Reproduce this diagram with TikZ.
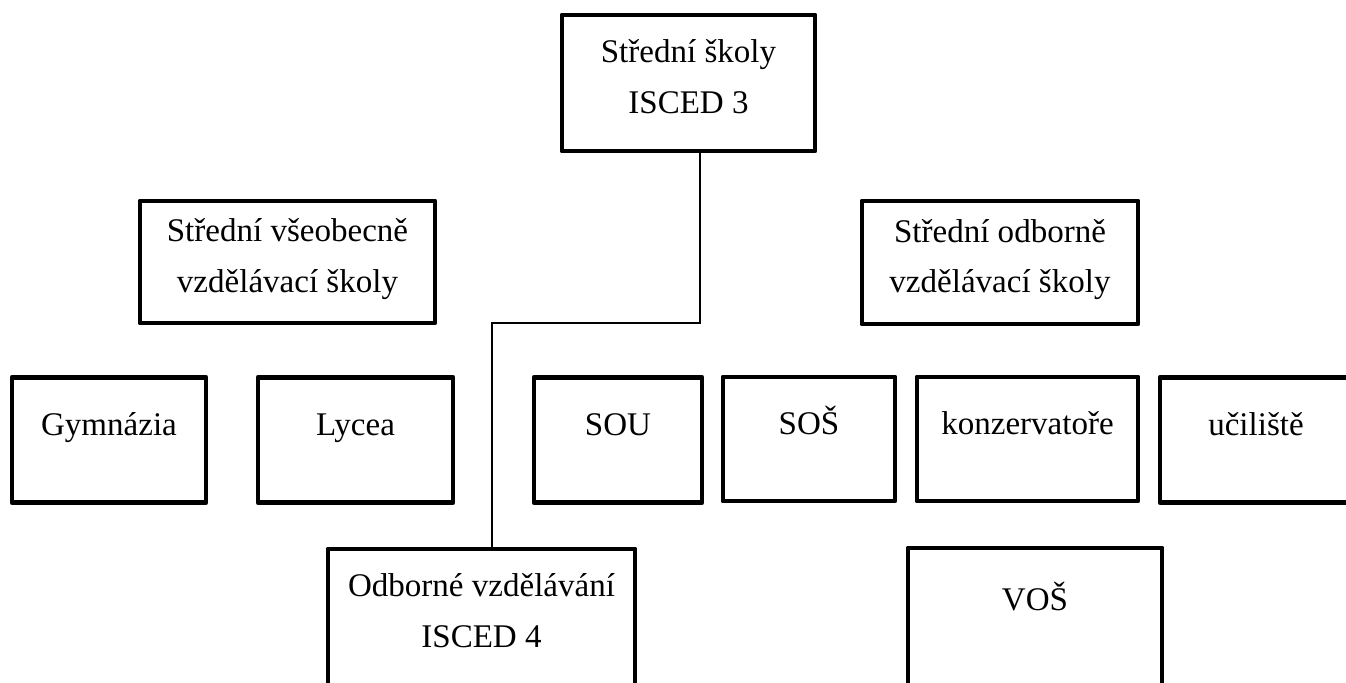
\documentclass[tikz,border=0pt]{standalone}
\usepackage{fontspec}
\setmainfont{Liberation Serif}

\begin{document}
\begin{tikzpicture}
		\tikzstyle{Box} = [rectangle, draw=black, line width=3.5pt, line join=round, fill=white, text centered, font=\fontsize{23.5}{35.6}\selectfont]
		\tikzstyle{Group} = [Box, align=center, text depth=0.325cm]
		\tikzstyle{School} = [Box, text height=0.625cm, text depth=0.875cm]
		\tikzstyle{link} = [line width=0.9pt]

		\useasboundingbox (0,0) rectangle (33.65,-17.05);
		\clip (0,0) rectangle (33.65,-17.05);

		% top level
		\node (isced3) [Group, minimum width=6.325cm, minimum height=3.4cm] at (17.2125,-2.075) {Střední školy\\ISCED 3};

		% two branches
		\node (general) [Group, minimum width=7.375cm, minimum height=3.05cm] at (7.1875,-6.55) {Střední všeobecně\\vzdělávací školy};
		\node (vocational) [Group, minimum width=6.9cm, minimum height=3.075cm] at (25,-6.5625) {Střední odborně\\vzdělávací školy};

		% school types
		\node (gym) [School, minimum width=4.85cm, minimum height=3.125cm] at (2.725,-11) {Gymnázia};
		\node (lyc) [School, minimum width=4.875cm, minimum height=3.125cm] at (8.8875,-11) {Lycea};
		\node (sou) [School, minimum width=4.2cm, minimum height=3.125cm] at (15.45,-11) {SOU};
		\node (sos) [School, minimum width=4.3cm, minimum height=3.1cm] at (20.225,-10.975) {SOŠ};
		\node (konz) [School, minimum width=5.525cm, minimum height=3.1cm] at (25.6875,-10.975) {konzervatoře};
		\node (ucil) [School, minimum width=4.8cm, minimum height=3.125cm] at (31.4,-11) {učiliště};

		% bottom
		\node (odb) [Group, text depth=0.925cm, minimum width=7.675cm, minimum height=4cm] at (12.0375,-15.725) {Odborné vzdělávání\\ISCED 4};
		\node (vos) [School, text depth=1.525cm, minimum width=6.35cm, minimum height=4cm] at (25.875,-15.7) {VOŠ};

		\coordinate (turn) at (12.3,-8.075);
		\draw [link] ([xshift=0.2875cm]isced3.south) |- (turn) -- (turn |- odb.north);
\end{tikzpicture}
\end{document}
